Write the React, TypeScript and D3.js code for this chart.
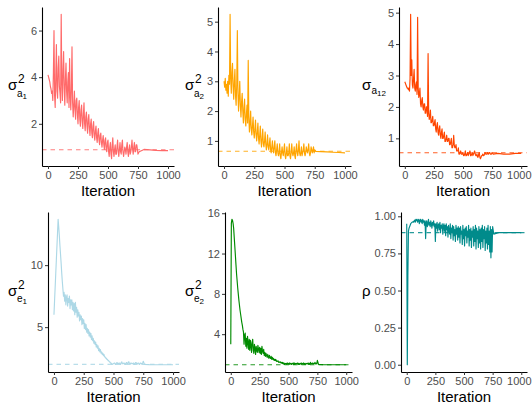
import React, { useEffect, useRef } from "react";
import * as d3 from "d3";

// iteration grid the trace values were read at
const iterations = [
  0, 5, 10, 15, 20, 25, 30, 35, 40, 45, 50,
  55, 60, 65, 70, 75, 80, 85, 90, 95, 100, 105, 110, 115, 120, 125, 130, 135, 140, 145, 150,
  155, 160, 165, 170, 175, 180, 185, 190, 195, 200, 205, 210, 215, 220, 225, 230, 235, 240, 245, 250,
  255, 260, 265, 270, 275, 280, 285, 290, 295, 300, 305, 310, 315, 320, 325, 330, 335, 340, 345, 350,
  355, 360, 365, 370, 375, 380, 385, 390, 395, 400, 405, 410, 415, 420, 425, 430, 435, 440, 445, 450,
  455, 460, 465, 470, 475, 480, 485, 490, 495, 500, 505, 510, 515, 520, 525, 530, 535, 540, 545, 550,
  555, 560, 565, 570, 575, 580, 585, 590, 595, 600, 605, 610, 615, 620, 625, 630, 635, 640, 645, 650,
  655, 660, 665, 670, 675, 680, 685, 690, 695, 700, 705, 710, 715, 720, 725, 730, 735, 740, 745, 750,
  760, 800, 850, 900, 950, 1000,
];

const sigmaA1 = [
  4.1, 4.0, 3.9, 3.8, 3.6, 3.5, 3.3, 3.4, 3.0, 4.2, 6.0,
  3.2, 2.7, 4.1, 5.4, 3.4, 3.1, 4.4, 4.9, 3.6, 3.3, 2.9, 6.7, 3.8, 3.0, 4.3, 5.1, 3.5, 2.8, 3.9, 4.6,
  3.4, 2.9, 3.8, 4.2, 2.7, 4.8, 3.2, 2.6, 3.5, 5.3, 2.9, 2.3, 2.8, 3.4, 2.6, 2.2, 3.0, 3.1, 2.4, 2.0,
  2.7, 3.0, 2.2, 1.9, 2.6, 2.8, 2.1, 1.8, 2.4, 2.9, 2.0, 1.7, 2.3, 2.5, 1.9, 1.6, 2.2, 2.4, 1.8, 1.5,
  2.0, 2.2, 1.6, 1.4, 1.9, 2.1, 1.5, 1.3, 1.7, 1.9, 1.4, 1.2, 1.6, 1.8, 1.3, 1.1, 1.5, 1.6, 1.2, 1.0,
  1.3, 1.5, 1.1, 0.9, 1.3, 1.4, 0.9, 0.8, 1.2, 1.3, 0.8, 0.6, 1.0, 1.2, 0.7, 0.5, 1.1, 1.4, 0.8, 0.6,
  0.9, 1.1, 0.7, 0.7, 1.0, 1.3, 0.8, 0.6, 0.9, 1.2, 0.8, 0.7, 1.1, 1.3, 0.8, 0.6, 0.8, 1.0, 0.9, 0.7,
  1.0, 1.2, 0.8, 0.6, 0.9, 1.1, 0.7, 0.8, 1.0, 1.3, 0.9, 0.7, 1.0, 1.2, 0.8, 0.8, 1.1, 1.1, 0.9, 0.7,
  0.8, 0.9, 0.88, 0.86, 0.85, 0.85,
];

const sigmaA2 = [
  3.0, 2.8, 3.1, 2.7, 2.9, 2.6, 3.0, 2.5, 3.2, 2.9, 5.25,
  3.1, 2.6, 3.3, 3.6, 2.8, 2.4, 3.0, 3.4, 2.5, 2.2, 2.9, 4.7, 2.6, 2.0, 2.5, 3.0, 2.2, 1.8, 2.3, 2.6,
  2.0, 1.6, 2.1, 2.4, 1.7, 1.5, 1.9, 2.2, 1.6, 3.7, 1.8, 1.3, 1.6, 2.0, 1.4, 1.2, 1.5, 1.8, 1.3, 1.1,
  1.4, 1.7, 1.2, 1.0, 1.3, 1.6, 1.1, 0.9, 1.2, 1.5, 1.0, 0.8, 1.1, 1.4, 0.9, 0.8, 1.0, 1.3, 0.9, 0.7,
  0.9, 1.2, 0.8, 0.7, 0.9, 1.1, 0.7, 0.6, 0.8, 1.0, 0.7, 0.6, 0.8, 1.0, 0.6, 0.5, 0.7, 0.9, 0.6, 0.5,
  0.6, 0.9, 0.5, 0.4, 0.6, 0.8, 0.6, 0.5, 0.7, 0.9, 0.5, 0.4, 0.6, 0.8, 0.5, 0.5, 0.6, 0.9, 0.5, 0.4,
  0.6, 0.9, 0.6, 0.5, 0.6, 0.8, 0.5, 0.4, 0.7, 0.9, 0.6, 0.5, 0.7, 1.0, 0.6, 0.5, 0.6, 0.8, 0.5, 0.6,
  0.7, 0.9, 0.6, 0.5, 0.6, 0.8, 0.7, 0.6, 0.7, 0.9, 0.6, 0.5, 0.6, 0.8, 0.7, 0.6, 0.7, 0.8, 0.6, 0.7,
  0.65, 0.64, 0.63, 0.62, 0.61, 0.6,
];

const sigmaA12 = [
  2.8, 2.75, 2.7, 2.65, 2.6, 2.6, 2.55, 2.6, 2.5, 2.9, 4.95,
  3.0, 3.5, 2.7, 2.6, 2.9, 3.2, 2.6, 2.5, 2.7, 2.8, 2.4, 4.85, 2.6, 2.3, 2.4, 2.6, 2.1, 2.0, 2.2, 2.3,
  2.0, 1.9, 2.1, 2.1, 1.8, 1.8, 2.0, 2.0, 1.7, 3.7, 1.8, 1.6, 1.7, 1.9, 1.5, 1.5, 1.6, 1.7, 1.4, 1.4,
  1.5, 1.6, 1.3, 1.2, 1.4, 1.5, 1.2, 1.1, 1.3, 1.4, 1.1, 1.0, 1.2, 1.3, 1.0, 1.0, 1.1, 1.2, 0.9, 0.9,
  1.0, 1.1, 0.9, 0.9, 1.0, 1.0, 0.8, 0.8, 0.9, 1.0, 0.7, 0.7, 0.8, 1.1, 0.8, 0.7, 0.7, 0.8, 0.6, 0.6,
  0.6, 0.7, 0.5, 0.5, 0.55, 0.6, 0.5, 0.5, 0.5, 0.55, 0.45, 0.45, 0.5, 0.6, 0.45, 0.45, 0.5, 0.55, 0.45, 0.5,
  0.55, 0.6, 0.45, 0.45, 0.5, 0.55, 0.45, 0.5, 0.55, 0.6, 0.5, 0.45, 0.45, 0.5, 0.4, 0.4, 0.5, 0.55, 0.4, 0.35,
  0.4, 0.45, 0.45, 0.5, 0.45, 0.45, 0.5, 0.55, 0.5, 0.5, 0.5, 0.55, 0.5, 0.5, 0.55, 0.55, 0.5, 0.5, 0.5, 0.55,
  0.5, 0.52, 0.5, 0.5, 0.52, 0.52,
];

const sigmaE1 = [
  6.0, 7.1, 8.2, 9.3, 10.4, 11.5, 12.6, 13.7, 13.1, 12.4, 11.6,
  10.9, 10.2, 9.4, 8.7, 8.1, 7.5, 7.8, 7.1, 7.6, 6.8, 7.4, 7.6, 6.7, 7.3, 7.0, 7.5, 6.5, 7.2, 6.8, 7.2,
  6.4, 7.0, 6.3, 6.9, 6.0, 7.0, 6.2, 6.6, 5.8, 6.4, 5.9, 6.2, 5.5, 6.0, 5.6, 5.9, 5.2, 5.7, 5.3, 5.6,
  4.9, 5.3, 4.8, 5.2, 4.6, 4.9, 4.5, 4.8, 4.3, 4.6, 4.2, 4.5, 4.0, 4.3, 3.9, 4.1, 3.7, 3.9, 3.6, 3.8,
  3.4, 3.6, 3.3, 3.5, 3.1, 3.3, 3.0, 3.2, 2.9, 3.0, 2.8, 2.9, 2.7, 2.8, 2.6, 2.6, 2.5, 2.5, 2.4, 2.4,
  2.3, 2.3, 2.2, 2.2, 2.1, 2.1, 2.0, 2.0, 2.05, 2.05, 2.1, 2.1, 2.0, 2.0, 2.1, 2.15, 2.05, 2.05, 2.1, 2.1,
  2.0, 2.0, 2.15, 2.2, 2.05, 2.05, 2.1, 2.1, 2.0, 2.0, 2.1, 2.15, 2.05, 2.05, 2.2, 2.2, 2.0, 2.0, 2.1, 2.1,
  2.05, 2.05, 2.1, 2.1, 2.0, 2.0, 2.15, 2.15, 2.05, 2.05, 2.1, 2.1, 2.0, 2.0, 2.1, 2.1, 2.05, 2.05, 2.1, 2.25,
  2.0, 1.98, 1.97, 1.97, 1.97, 1.97,
];

const sigmaE2 = [
  3.0, 15.0, 15.4, 15.3, 15.0, 14.5, 13.6, 12.7, 11.8, 10.9, 10.0,
  9.3, 8.6, 8.0, 7.4, 6.9, 6.4, 6.0, 5.6, 5.2, 4.9, 4.5, 4.2, 3.0, 3.9, 4.1, 2.8, 3.6, 2.6, 3.8, 3.2,
  2.5, 3.5, 2.4, 3.4, 2.9, 2.2, 3.2, 3.5, 2.4, 2.1, 3.0, 2.6, 2.0, 2.8, 2.4, 2.2, 2.9, 2.5, 2.2, 2.7,
  2.1, 2.6, 2.0, 2.8, 2.3, 2.1, 2.5, 1.9, 2.2, 1.8, 2.1, 1.9, 1.7, 2.0, 1.8, 1.6, 1.9, 1.7, 1.6, 1.8,
  1.5, 1.7, 1.5, 1.6, 1.4, 1.5, 1.4, 1.5, 1.3, 1.35, 1.3, 1.35, 1.2, 1.25, 1.2, 1.25, 1.15, 1.2, 1.1, 1.2,
  1.05, 1.15, 1.0, 1.1, 1.05, 1.1, 1.0, 1.15, 1.05, 1.1, 1.0, 1.15, 1.05, 1.1, 1.0, 1.1, 1.05, 1.15, 1.0, 1.15,
  1.0, 1.1, 1.05, 1.1, 1.05, 1.15, 1.0, 1.1, 1.0, 1.1, 1.05, 1.15, 1.0, 1.1, 1.05, 1.15, 1.0, 1.1, 1.0, 1.1,
  1.05, 1.1, 1.05, 1.15, 1.0, 1.1, 1.0, 1.2, 1.05, 1.1, 1.05, 1.15, 1.05, 1.1, 1.1, 1.2, 1.05, 1.1, 1.05, 1.4,
  1.0, 0.98, 0.97, 0.97, 0.97, 0.97,
];

const rho = [
  0.95, 0.0, 0.6, 0.9, 0.92, 0.93, 0.94, 0.95, 0.955, 0.96, 0.96,
  0.965, 0.96, 0.97, 0.975, 0.96, 0.98, 0.97, 0.98, 0.96, 0.975, 0.98, 0.95, 0.97, 0.98, 0.96, 0.975, 0.95, 0.98, 0.96, 0.97,
  0.94, 0.97, 0.85, 0.96, 0.97, 0.93, 0.95, 0.98, 0.94, 0.96, 0.93, 0.97, 0.95, 0.92, 0.96, 0.94, 0.97, 0.93, 0.95, 0.83,
  0.95, 0.92, 0.96, 0.9, 0.94, 0.95, 0.91, 0.96, 0.89, 0.94, 0.92, 0.95, 0.88, 0.93, 0.95, 0.9, 0.94, 0.87, 0.95, 0.91,
  0.93, 0.86, 0.94, 0.9, 0.88, 0.95, 0.85, 0.92, 0.89, 0.94, 0.84, 0.93, 0.87, 0.91, 0.83, 0.94, 0.88, 0.92, 0.84, 0.93,
  0.86, 0.92, 0.82, 0.93, 0.88, 0.9, 0.81, 0.94, 0.85, 0.91, 0.8, 0.92, 0.87, 0.93, 0.82, 0.9, 0.86, 0.94, 0.8, 0.91,
  0.84, 0.92, 0.79, 0.9, 0.86, 0.93, 0.8, 0.91, 0.83, 0.94, 0.78, 0.92, 0.85, 0.9, 0.79, 0.93, 0.82, 0.91, 0.78, 0.92,
  0.83, 0.94, 0.79, 0.91, 0.85, 0.93, 0.77, 0.9, 0.82, 0.92, 0.78, 0.94, 0.81, 0.9, 0.76, 0.93, 0.72, 0.91, 0.76, 0.93,
  0.88, 0.89, 0.89, 0.89, 0.89, 0.89,
];

// dashed reference lines
const trueValues = [0.89, 0.65, 0.54, 2.0, 0.97, 0.89];

const xTicks = [0, 250, 500, 750, 1000];
const yTicksA1 = [2, 4, 6];
const yTicksA2 = [1, 2, 3, 4, 5];
const yTicksA12 = [1, 2, 3, 4, 5];
const yTicksE1 = [5, 10];
const yTicksE2 = [4, 8, 12, 16];
const yTicksRho = [0, 0.25, 0.5, 0.75, 1];

const FONT = "'Liberation Sans', Arial, Helvetica, sans-serif";
const WIDTH = 532;

const panels = [
  { values: sigmaA1, ticks: yTicksA1, fmt: d3.format("d"), color: "#FF6A6A", sym: "σ", sup: "2", sub: "a", subsub: "1",
    l: 42, r: 174, t: 7, b: 166, titleX: 8 },
  { values: sigmaA2, ticks: yTicksA2, fmt: d3.format("d"), color: "#FFA500", sym: "σ", sup: "2", sub: "a", subsub: "2",
    l: 218, r: 351, t: 7, b: 166, titleX: 185 },
  { values: sigmaA12, ticks: yTicksA12, fmt: d3.format("d"), color: "#FF4500", sym: "σ", sup: "", sub: "a", subsub: "12",
    l: 399, r: 527, t: 7, b: 166, titleX: 362 },
  { values: sigmaE1, ticks: yTicksE1, fmt: d3.format("d"), color: "#ADD8E6", sym: "σ", sup: "2", sub: "e", subsub: "1",
    l: 48, r: 179, t: 212, b: 372, titleX: 8 },
  { values: sigmaE2, ticks: yTicksE2, fmt: d3.format("d"), color: "#008B00", sym: "σ", sup: "2", sub: "e", subsub: "2",
    l: 225, r: 352, t: 212, b: 372, titleX: 185 },
  { values: rho, ticks: yTicksRho, fmt: d3.format(".2f"), color: "#008B8B", sym: "ρ", sup: "", sub: "", subsub: "",
    l: 401, r: 527, t: 212, b: 372, titleX: 362 },
];

const App = () => {
  const svgRef = useRef<SVGSVGElement>(null);

  useEffect(() => {
    const svg = d3.select(svgRef.current);
    svg.selectAll("*").remove();

    panels.forEach((p, pi) => {
      const g = svg.append("g");

      const x = d3.scaleLinear().domain([-50, 1050]).range([p.l, p.r]);
      const [lo, hi] = d3.extent(p.values) as [number, number];
      const pad = (hi - lo) * 0.05;
      const y = d3.scaleLinear().domain([lo - pad, hi + pad]).range([p.b, p.t]);

      // trace
      const line = d3
        .line<number>()
        .x((_, i) => x(iterations[i]))
        .y((d) => y(d));

      g.append("path")
        .datum(p.values)
        .attr("d", line)
        .attr("fill", "none")
        .attr("stroke", p.color)
        .attr("stroke-width", 1.15)
        .attr("stroke-linejoin", "round");

      // dashed true value
      g.append("line")
        .attr("x1", p.l)
        .attr("x2", p.r)
        .attr("y1", y(trueValues[pi]))
        .attr("y2", y(trueValues[pi]))
        .attr("stroke", p.color)
        .attr("stroke-opacity", 0.85)
        .attr("stroke-width", 1.1)
        .attr("stroke-dasharray", "4.5,4");

      const yAxis = g
        .append("g")
        .attr("transform", `translate(${p.l},0)`)
        .call(d3.axisLeft(y).tickValues(p.ticks).tickFormat(p.fmt as any).tickSize(3).tickPadding(2).tickSizeOuter(0));

      const xAxis = g
        .append("g")
        .attr("transform", `translate(0,${p.b})`)
        .call(d3.axisBottom(x).tickValues(xTicks).tickFormat(d3.format("d")).tickSize(3).tickPadding(2).tickSizeOuter(0));

      [yAxis, xAxis].forEach((a) => {
        a.attr("font-family", FONT).attr("font-size", 11);
        a.select(".domain").attr("stroke", "#000").attr("stroke-width", 1.1);
        a.selectAll(".tick line").attr("stroke", "#333");
        a.selectAll(".tick text").attr("fill", "#4D4D4D");
      });

      // keep the last x label inside the window on the right-hand column
      xAxis
        .selectAll<SVGTextElement, number>(".tick text")
        .filter((d) => d === 1000 && x(d) + 13 > WIDTH - 1)
        .attr("text-anchor", "end")
        .attr("x", WIDTH - 1 - x(1000));

      // x title
      g.append("text")
        .attr("x", (p.l + p.r) / 2)
        .attr("y", p.b + 30)
        .attr("text-anchor", "middle")
        .attr("font-family", FONT)
        .attr("font-size", 15)
        .attr("fill", "#000")
        .text("Iteration");

      // y title, plotmath style
      const cy = (p.t + p.b) / 2;
      const title = g.append("g").attr("font-family", FONT).attr("fill", "#000");
      title.append("text").attr("x", p.titleX).attr("y", cy + 3.5).attr("font-size", 15).text(p.sym);
      if (p.sup) {
        title.append("text").attr("x", p.titleX + 10).attr("y", cy - 3.5).attr("font-size", 12).text(p.sup);
        title.append("text").attr("x", p.titleX + 9).attr("y", cy + 10).attr("font-size", 10).text(p.sub);
        title.append("text").attr("x", p.titleX + 14.5).attr("y", cy + 12).attr("font-size", 8).text(p.subsub);
      } else if (p.sub) {
        title.append("text").attr("x", p.titleX + 9.5).attr("y", cy + 7.5).attr("font-size", 10).text(p.sub);
        title.append("text").attr("x", p.titleX + 15).attr("y", cy + 9.5).attr("font-size", 8).text(p.subsub);
      }
    });
  }, []);

  return (
    <svg
      ref={svgRef}
      width={WIDTH}
      height={405}
      style={{ position: "absolute", left: 0, top: 0, background: "#fff" }}
    ></svg>
  );
};

export default App;
